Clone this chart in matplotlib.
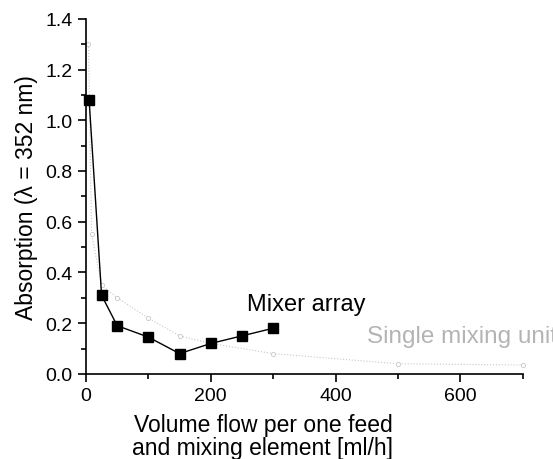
import matplotlib
matplotlib.use("Agg")
import matplotlib.pyplot as plt
from matplotlib.ticker import MultipleLocator

plt.rcParams['font.family'] = ['Liberation Sans', 'DejaVu Sans']

# Mixer array (black squares)
mixer_x = [5, 25, 50, 100, 150, 200, 250, 300]
mixer_y = [1.08, 0.31, 0.19, 0.145, 0.08, 0.12, 0.15, 0.18]

# Single mixing unit (faint grey)
single_x = [4, 9, 25, 50, 100, 150, 200, 300, 500, 700]
single_y = [1.30, 0.55, 0.35, 0.30, 0.22, 0.15, 0.12, 0.08, 0.04, 0.035]

fig = plt.figure(figsize=(5.53, 4.60), dpi=100)
ax = fig.add_axes([0.1555, 0.185, 0.790, 0.772])

ax.plot(single_x, single_y, ls=":", lw=0.8, color="#c8c8c8", marker="o", ms=3,
        mfc="white", mec="#c8c8c8", mew=0.6, clip_on=False, zorder=2)
ax.plot(mixer_x, mixer_y, "-", lw=1.0, color="black", marker="s", ms=6.5,
        mfc="black", mec="black", clip_on=False, zorder=3)

ax.text(258, 0.276, "Mixer array", fontsize=17, va="center", ha="left")
ax.text(450, 0.15, "Single mixing unit", fontsize=17.5, va="center", ha="left",
        color="#b4b4b4", clip_on=False)

ax.set_xlim(0, 700)
ax.set_ylim(0, 1.4)
ax.xaxis.set_major_locator(MultipleLocator(200))
ax.xaxis.set_minor_locator(MultipleLocator(100))
ax.yaxis.set_major_locator(MultipleLocator(0.2))
ax.yaxis.set_minor_locator(MultipleLocator(0.1))
ax.yaxis.set_major_formatter(plt.FuncFormatter(lambda v, p: f"{v:.1f}"))

for s in ["top", "right"]:
    ax.spines[s].set_visible(False)
for s in ["left", "bottom"]:
    ax.spines[s].set_linewidth(1.2)
ax.tick_params(which="major", direction="out", length=6, width=1.2, labelsize=14)
ax.tick_params(which="minor", direction="out", length=3.5, width=1.2)

ax.set_ylabel("Absorption (\u03bb = 352 nm)", fontsize=16.5)
ax.yaxis.set_label_coords(-0.11, 0.5, transform=ax.transAxes)
ax.set_xlabel("Volume flow per one feed\nand mixing element [ml/h]", fontsize=16.5,
              linespacing=1.0)
ax.xaxis.set_label_coords(0.405, -0.11, transform=ax.transAxes)
ax.xaxis.label.set_va("top")

fig.savefig("out.png", dpi=100, facecolor="white")
